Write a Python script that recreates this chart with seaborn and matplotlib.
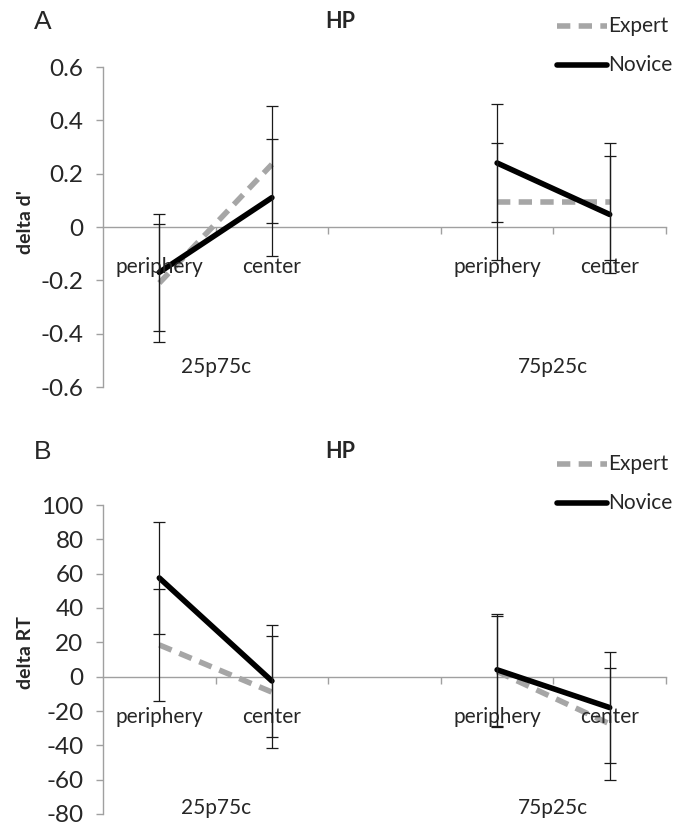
import matplotlib
matplotlib.use("Agg")
import matplotlib.pyplot as plt
from matplotlib.lines import Line2D
import numpy as np
import pandas as pd
import seaborn as sns

# ---- data -------------------------------------------------------------
conditions = ["periphery", "center", "periphery", "center"]
block_of_point = [0, 0, 1, 1]
block_names = ["25p75c", "75p25c"]
groups = ["Expert", "Novice"]

# panel A: change in sensitivity (delta d')
dprime_expert = [-0.21, 0.235, 0.095, 0.095]
dprime_novice = [-0.17, 0.11, 0.24, 0.047]
dprime_err_expert = [0.22, 0.22, 0.22, 0.22]
dprime_err_novice = [0.22, 0.22, 0.22, 0.22]
dprime_ticks = [-0.6, -0.4, -0.2, 0.0, 0.2, 0.4, 0.6]

# panel B: change in reaction time (delta RT)
rt_expert = [18.5, -9.0, 3.0, -27.5]
rt_novice = [57.5, -2.5, 4.0, -18.0]
rt_err_expert = [32.5, 32.5, 32.5, 32.5]
rt_err_novice = [32.5, 32.5, 32.5, 32.5]
rt_ticks = [-80, -60, -40, -20, 0, 20, 40, 60, 80, 100]

# ---- style ------------------------------------------------------------
sns.set_theme(style="white")
plt.rcParams["font.family"] = ["Lato", "DejaVu Sans"]
plt.rcParams["axes.unicode_minus"] = False

W, H, DPI = 678, 827, 100
GRAY = "#a6a6a6"
AXIS_GRAY = "#a0a0a0"
LW = 4.0
colors = {"Expert": GRAY, "Novice": "black"}
dash_map = {"Expert": (2.4, 1.5), "Novice": ""}

fig = plt.figure(figsize=(W / DPI, H / DPI), dpi=DPI)


def fx(px):
    return px / W


def fy(py):
    return 1 - py / H


def axes_rect(left, top, right, bottom):
    return [fx(left), fy(bottom), fx(right) - fx(left), fy(top) - fy(bottom)]


# slot positions: each block holds two conditions, blocks separated by an empty slot
x_pos = [b * 3 + (i % 2) for i, b in enumerate(block_of_point)]


def fmt_tick(v):
    return "0" if v == 0 else f"{v:g}"


def draw_panel(ax, expert, novice, err_e, err_n, ticks, ylabel,
               letter, letter_y, title_y, legend_y, group_offset, label_y):
    rows = []
    for g, vals in (("Expert", expert), ("Novice", novice)):
        for x, b, v in zip(x_pos, block_of_point, vals):
            rows.append({"x": x, "value": v, "group": g, "block": b})
    df = pd.DataFrame(rows)

    # lines per group, one segment per block, with their error bars
    for g, errs in (("Expert", err_e), ("Novice", err_n)):
        sub = df[df["group"] == g]
        sns.lineplot(data=sub, x="x", y="value", hue="group", style="group",
                     units="block", estimator=None, sort=False,
                     palette=colors, dashes=dash_map, linewidth=LW,
                     legend=False, ax=ax, zorder=3)
        ax.errorbar(sub["x"], sub["value"], yerr=errs, fmt="none",
                    ecolor="#1a1a1a", elinewidth=0.9, capsize=4,
                    capthick=0.9, zorder=4)

    ax.set_xlim(-0.5, 4.5)
    ax.set_ylim(ticks[0], ticks[-1])
    ax.set_yticks(ticks)
    ax.set_yticklabels([fmt_tick(t) for t in ticks])
    ax.set_xticks([k + 0.5 for k in range(5)])
    ax.set_xticklabels([])
    ax.set_xlabel("")

    for s in ("top", "right"):
        ax.spines[s].set_visible(False)
    ax.spines["bottom"].set_position(("data", 0))
    for s in ("left", "bottom"):
        ax.spines[s].set_color(AXIS_GRAY)
        ax.spines[s].set_linewidth(1.0)
    ax.tick_params(axis="y", direction="out", length=5, width=1.0,
                   color=AXIS_GRAY, labelsize=17.5, pad=9, left=True)
    ax.tick_params(axis="x", direction="out", length=5, width=1.0,
                   color=AXIS_GRAY, bottom=True)

    ax.set_ylabel(ylabel, fontsize=14, fontweight="bold")
    ax.yaxis.set_label_coords(-0.122, label_y)

    # category and block labels hang below the zero line
    for x, c in zip(x_pos, conditions):
        ax.annotate(c, xy=(x, 0), xycoords="data", xytext=(0, -40),
                    textcoords="offset pixels", ha="center", va="center",
                    fontsize=15)
    for b, name in enumerate(block_names):
        ax.annotate(name, xy=(b * 3 + 0.5, 0), xycoords="data",
                    xytext=(0, -group_offset), textcoords="offset pixels",
                    ha="center", va="center", fontsize=15)

    fig.text(fx(43), fy(letter_y), letter, fontsize=19,
             family=["Liberation Sans", "DejaVu Sans"],
             ha="center", va="center")
    fig.text(fx(340), fy(title_y), "HP", fontsize=15.5, fontweight="bold",
             ha="center", va="center")

    # legend drawn at the upper right of the panel
    for g, ly in zip(groups, legend_y):
        fig.add_artist(Line2D([fx(557), fx(607)], [fy(ly), fy(ly)],
                              transform=fig.transFigure, color=colors[g],
                              linewidth=LW,
                              dashes=dash_map[g] if dash_map[g] else (None, None)))
        fig.text(fx(608), fy(ly), g, fontsize=15, ha="left", va="center")


ax_a = fig.add_axes(axes_rect(103, 67, 666, 387))
draw_panel(ax_a, dprime_expert, dprime_novice, dprime_err_expert,
           dprime_err_novice, dprime_ticks, "delta d'", "A", 22, 22,
           (26, 65), 140, 0.516)

ax_b = fig.add_axes(axes_rect(103, 505, 666, 814))
draw_panel(ax_b, rt_expert, rt_novice, rt_err_expert, rt_err_novice,
           rt_ticks, "delta RT", "B", 452, 452, (464, 503), 131, 0.521)

fig.savefig("out.png", dpi=DPI)
